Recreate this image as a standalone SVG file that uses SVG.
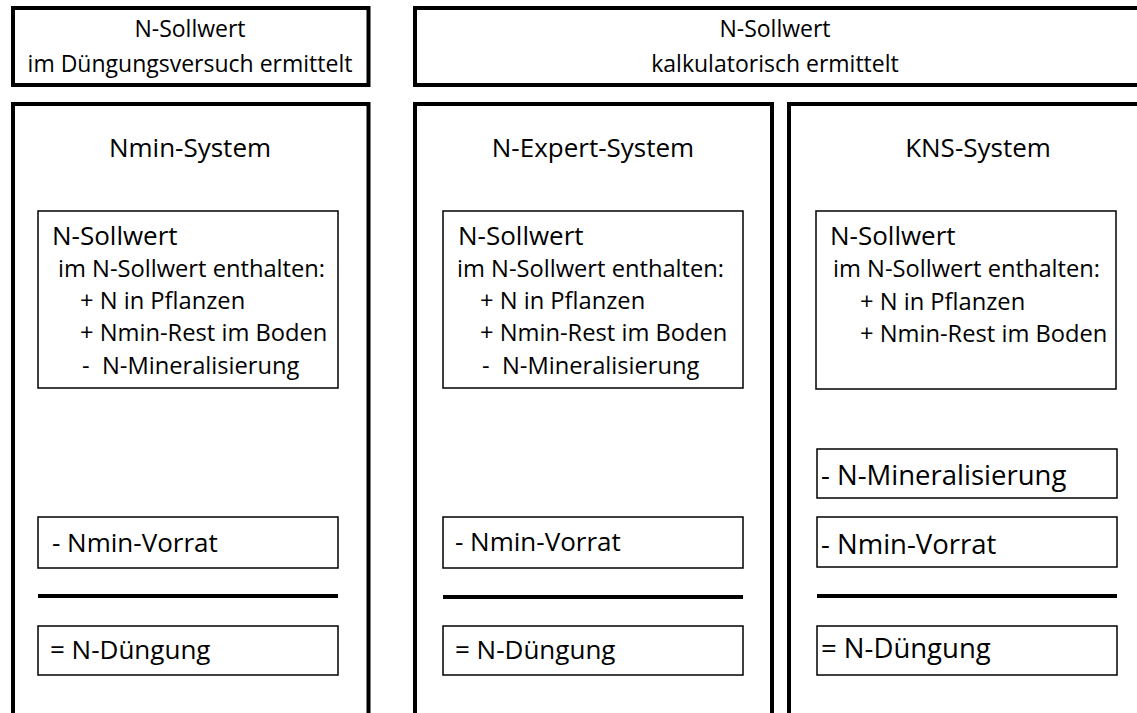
<svg xmlns="http://www.w3.org/2000/svg" width="1137" height="713" viewBox="0 0 1137 713">
<style>
text{font-family:"Open Sans","Noto Sans","Liberation Sans",sans-serif;fill:#000}
.thick{fill:#fff;stroke:#000;stroke-width:4}
.thin{fill:#fff;stroke:#000;stroke-width:1.5}
.sep{stroke:#000;stroke-width:4}
.s{font-size:23px}
.b{font-size:23.7px}
.m{font-size:26px}
.l{font-size:27.5px}
.c{text-anchor:middle}
</style>
<rect width="1137" height="713" fill="#fff"/>
<g id="header-versuch">
<rect class="thick" x="13" y="8" width="355.5" height="77"/>
<text class="s c" x="190" y="37">N-Sollwert</text>
<text class="s c" x="190" y="72">im Düngungsversuch ermittelt</text>
</g>
<g id="header-kalkulatorisch">
<rect class="thick" x="415" y="8" width="730" height="77"/>
<text class="s c" x="775" y="37">N-Sollwert</text>
<text class="s c" x="775" y="72">kalkulatorisch ermittelt</text>
</g>
<g id="nmin-system">
<rect class="thick" x="13" y="104" width="355.5" height="640"/>
<text class="m c" x="190" y="157">Nmin-System</text>
<g id="nmin-sollwert">
<rect class="thin" x="38" y="211" width="300" height="177"/>
<text class="m" x="52" y="245">N-Sollwert</text>
<text class="b" x="58" y="277">im N-Sollwert enthalten:</text>
<text class="b" x="80" y="309">+ N in Pflanzen</text>
<text class="b" x="80" y="341">+ Nmin-Rest im Boden</text>
<text class="b" x="82" y="374" xml:space="preserve">-  N-Mineralisierung</text>
</g>
<g id="nmin-vorrat">
<rect class="thin" x="38" y="517" width="300" height="51"/>
<text class="m" x="52" y="552">- Nmin-Vorrat</text>
</g>
<g id="nmin-duengung">
<rect class="thin" x="38" y="626" width="300" height="49"/>
<text class="m" x="50" y="659">= N-Düngung</text>
</g>
</g>
<g id="nexpert-system">
<rect class="thick" x="415" y="104" width="357" height="640"/>
<text class="m c" x="593" y="157">N-Expert-System</text>
<g id="nexpert-sollwert">
<rect class="thin" x="443" y="211" width="300" height="177"/>
<text class="m" x="458" y="245">N-Sollwert</text>
<text class="b" x="457" y="277">im N-Sollwert enthalten:</text>
<text class="b" x="480" y="309">+ N in Pflanzen</text>
<text class="b" x="480" y="341">+ Nmin-Rest im Boden</text>
<text class="b" x="482" y="374" xml:space="preserve">-  N-Mineralisierung</text>
</g>
<g id="nexpert-vorrat">
<rect class="thin" x="443" y="517" width="300" height="51"/>
<text class="m" x="455" y="551">- Nmin-Vorrat</text>
</g>
<g id="nexpert-duengung">
<rect class="thin" x="443" y="626" width="300" height="49"/>
<text class="m" x="455" y="659">= N-Düngung</text>
</g>
</g>
<g id="kns-system">
<rect class="thick" x="789" y="104" width="400" height="640"/>
<text class="m c" x="978" y="157">KNS-System</text>
<g id="kns-sollwert">
<rect class="thin" x="816" y="211" width="300" height="178"/>
<text class="m" x="830" y="245">N-Sollwert</text>
<text class="b" x="833" y="277">im N-Sollwert enthalten:</text>
<text class="b" x="860" y="310">+ N in Pflanzen</text>
<text class="b" x="860" y="342">+ Nmin-Rest im Boden</text>
</g>
<g id="kns-mineralisierung">
<rect class="thin" x="817" y="449" width="300" height="49"/>
<text class="l" x="821" y="485">- N-Mineralisierung</text>
</g>
<g id="kns-vorrat">
<rect class="thin" x="817" y="517" width="300" height="50"/>
<text class="l" x="821" y="554">- Nmin-Vorrat</text>
</g>
<g id="kns-duengung">
<rect class="thin" x="817" y="626" width="300" height="49"/>
<text class="l" x="821" y="658">= N-Düngung</text>
</g>
</g>
<g id="connectors">
<line class="sep" x1="38" y1="596" x2="338" y2="596"/>
<line class="sep" x1="443" y1="597" x2="743" y2="597"/>
<line class="sep" x1="817" y1="596" x2="1117" y2="596"/>
</g>
</svg>
